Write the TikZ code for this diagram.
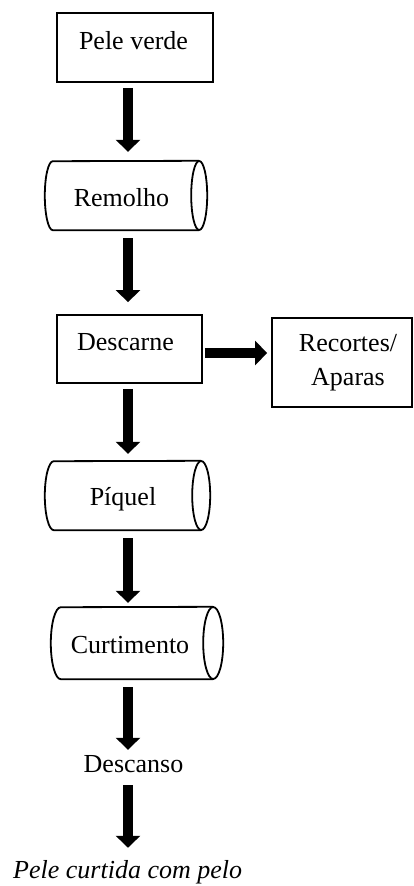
\documentclass[tikz,border=0pt]{standalone}
\usepackage{fontspec}
\setmainfont{Liberation Serif}
\usetikzlibrary{arrows.meta,calc}
\newcommand\drumdraw[3]{%
  \draw[drumline] ([xshift=-#2pt]#1.south east) -- ([xshift=#2pt]#1.south west)
    arc[start angle=270, end angle=90, x radius=#2pt, y radius=#3pt]
    -- ([xshift=-#2pt]#1.north east);
  \draw[drumline] ([xshift=-#2pt]#1.east) ellipse[x radius=#2pt, y radius=#3pt];
}
\begin{document}
\begin{tikzpicture}[x=1pt,y=-1pt,
  every node/.style={font=\fontsize{26}{29}\selectfont},
  frame/.style={draw, line width=1.8pt, inner sep=0pt},
  drum/.style={draw=none, inner sep=0pt},
  drumline/.style={line width=1.8pt, line join=round},
  lbl/.style={inner sep=0pt, anchor=base},
  bigarrow/.style={line width=10pt, -{Triangle[width=24pt,length=12pt]}},
]
\useasboundingbox (0,0) rectangle (414,886);
\coordinate (col) at (128,0);

% boxes
\node[frame, minimum width=156pt, minimum height=69pt] (pv) at (135,47.5) {};
\node[lbl] (pvt) at (133.5,49) {Pele verde};

\node[drum, minimum width=162pt, minimum height=69pt] (rem) at (126,195.5) {};
\drumdraw{rem}{8}{34.5}
\node[lbl] (remt) at (121.5,206.5) {Remolho};

\node[frame, minimum width=145pt, minimum height=68pt] (dc) at (129.5,349) {};
\node[lbl] (dct) at (125.5,350) {Descarne};

\node[frame, minimum width=140pt, minimum height=89pt] (rc) at (342,362.5) {};
\node[inner sep=0pt, align=center, font=\fontsize{26}{34}\selectfont] (rct) at (348,363) {Recortes/\\Aparas};

\node[drum, minimum width=165pt, minimum height=69pt] (pq) at (127.5,495.5) {};
\drumdraw{pq}{9}{34.5}
\node[lbl] (pqt) at (123,505) {Píquel};

\node[drum, minimum width=172pt, minimum height=72pt] (ct) at (137,643) {};
\drumdraw{ct}{10}{36}
\node[lbl] (ctt) at (130,653) {Curtimento};

\node[lbl] (ds) at (133.5,772) {Descanso};
\node[inner sep=0pt, anchor=base west, font=\fontsize{26}{29}\selectfont\itshape] (fin) at (13,878) {Pele curtida com pelo};

% arrows
\draw[bigarrow] ($(pv.south-|col)+(0,5)$) -- ($(rem.north-|col)+(0,-9)$);
\draw[bigarrow] ($(rem.south-|col)+(0,8)$) -- ($(dc.north-|col)+(0,-12)$);
\draw[bigarrow] ($(dc.south-|col)+(0,5)$) -- ($(pq.north-|col)+(0,-7)$);
\draw[bigarrow] ($(pq.south-|col)+(0,8)$) -- ($(ct.north-|col)+(0,-4)$);
\draw[bigarrow] ($(ct.south-|col)+(0,8)$) -- ($(ds.north-|col)+(0,-5)$);
\draw[bigarrow] ($(ds.south-|col)+(0,13)$) -- ($(fin.north-|col)+(0,-12)$);
\draw[bigarrow] ($(dc.east)+(2,4)$) -- ($(rc.west|-dc.east)+(-4,4)$);
\end{tikzpicture}
\end{document}
